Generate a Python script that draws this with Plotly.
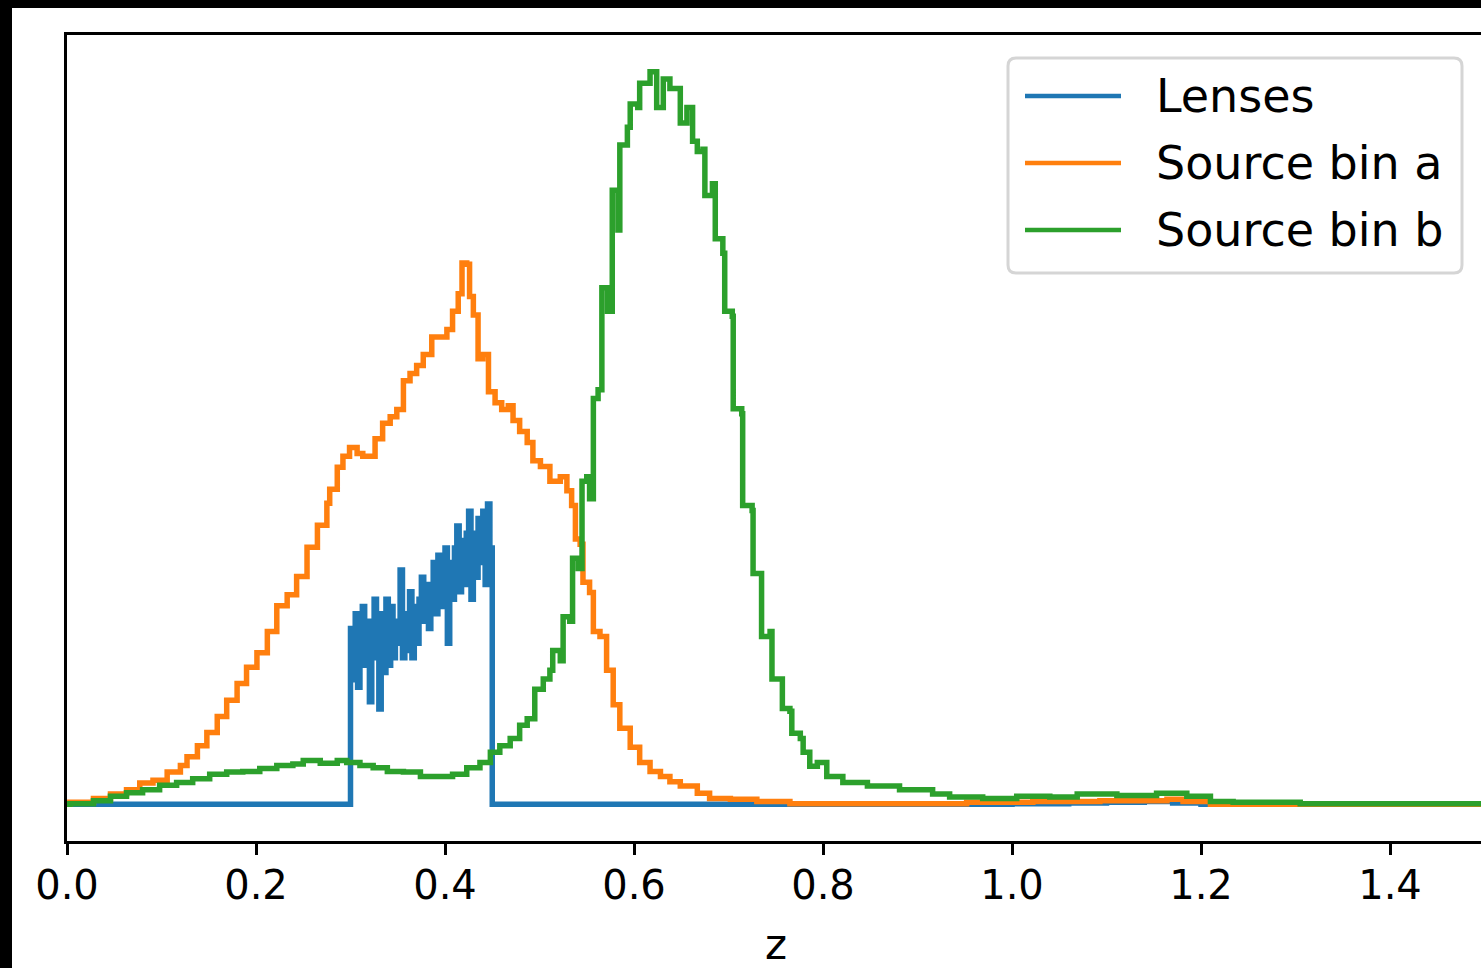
import numpy as np
import plotly.graph_objects as go

# ---------------- data ----------------
tick_vals = [0.0, 0.2, 0.4, 0.6, 0.8, 1.0, 1.2, 1.4]
tick_text = ["0.0", "0.2", "0.4", "0.6", "0.8", "1.0", "1.2", "1.4"]
series_names = ["Lenses", "Source bin a", "Source bin b"]

# Lenses: histogram bins of width 0.0025 between z=0.30 and z=0.45
lens_bin_lo, lens_bin_hi, lens_nbins = 0.30, 0.45, 60
lens_values = [0.24, 0.17, 0.26, 0.16, 0.22,
               0.27, 0.19, 0.25, 0.14, 0.23,
               0.28, 0.20, 0.13, 0.26, 0.18,
               0.28, 0.19, 0.27, 0.20, 0.25,
               0.22, 0.32, 0.20, 0.26, 0.21,
               0.29, 0.20, 0.27, 0.22, 0.28,
               0.31, 0.25, 0.30, 0.24, 0.29,
               0.33, 0.26, 0.34, 0.27, 0.32,
               0.35, 0.22, 0.33, 0.28, 0.35,
               0.38, 0.29, 0.36, 0.30, 0.37,
               0.40, 0.28, 0.37, 0.31, 0.39,
               0.33, 0.40, 0.30, 0.41, 0.35]
lens_tail_z = [0.45, 1.00, 1.06, 1.10, 1.14, 1.17, 1.20, 1.50]
lens_tail_y = [0.000, 0.001, 0.002, 0.003, 0.004, 0.002, 0.000, 0.000]

src_a_z = [0.000, 0.003, 0.028, 0.046, 0.063, 0.077, 0.091, 0.106, 0.120, 0.127,
           0.138, 0.148, 0.159, 0.169, 0.180, 0.190, 0.201, 0.212, 0.222, 0.233,
           0.243, 0.254, 0.265, 0.275, 0.278, 0.286, 0.292, 0.299, 0.307, 0.313,
           0.321, 0.326, 0.334, 0.342, 0.349, 0.356, 0.363, 0.370, 0.377, 0.386,
           0.395, 0.402, 0.408, 0.414, 0.418, 0.423, 0.426, 0.430, 0.435, 0.440,
           0.446, 0.453, 0.460, 0.467, 0.472, 0.479, 0.487, 0.493, 0.501, 0.511,
           0.522, 0.529, 0.534, 0.538, 0.543, 0.546, 0.553, 0.557, 0.564, 0.571,
           0.578, 0.585, 0.596, 0.606, 0.617, 0.628, 0.638, 0.649, 0.667, 0.680,
           0.702, 0.730, 0.765, 0.916, 0.952, 1.022, 1.093, 1.164, 1.181, 1.210,
           1.500]
src_a_y = [0.000, 0.003, 0.008, 0.014, 0.020, 0.029, 0.033, 0.044, 0.053, 0.065,
           0.080, 0.098, 0.120, 0.142, 0.165, 0.187, 0.207, 0.236, 0.271, 0.286,
           0.311, 0.351, 0.381, 0.411, 0.430, 0.460, 0.475, 0.487, 0.479, 0.475,
           0.475, 0.499, 0.520, 0.529, 0.539, 0.578, 0.588, 0.599, 0.614, 0.638,
           0.638, 0.648, 0.673, 0.697, 0.739, 0.737, 0.693, 0.668, 0.608, 0.614,
           0.563, 0.548, 0.539, 0.544, 0.524, 0.509, 0.494, 0.469, 0.461, 0.441,
           0.447, 0.428, 0.408, 0.362, 0.355, 0.303, 0.289, 0.236, 0.229, 0.183,
           0.136, 0.104, 0.078, 0.057, 0.045, 0.038, 0.031, 0.025, 0.015, 0.008,
           0.007, 0.004, 0.001, 0.001, 0.003, 0.004, 0.005, 0.007, 0.004, 0.000,
           0.000]

src_b_z = [0.000, 0.003, 0.028, 0.046, 0.063, 0.080, 0.098, 0.116, 0.133, 0.151,
           0.169, 0.186, 0.204, 0.222, 0.239, 0.250, 0.268, 0.286, 0.296, 0.310,
           0.324, 0.339, 0.356, 0.374, 0.392, 0.408, 0.423, 0.437, 0.448, 0.458,
           0.469, 0.479, 0.487, 0.495, 0.504, 0.511, 0.514, 0.522, 0.525, 0.532,
           0.535, 0.541, 0.545, 0.550, 0.553, 0.557, 0.562, 0.566, 0.572, 0.577,
           0.583, 0.585, 0.593, 0.596, 0.604, 0.606, 0.617, 0.624, 0.631, 0.638,
           0.646, 0.649, 0.656, 0.662, 0.667, 0.673, 0.675, 0.683, 0.686, 0.694,
           0.696, 0.704, 0.705, 0.714, 0.715, 0.725, 0.726, 0.733, 0.735, 0.744,
           0.746, 0.754, 0.757, 0.765, 0.767, 0.776, 0.779, 0.786, 0.794, 0.804,
           0.821, 0.847, 0.881, 0.916, 0.934, 0.969, 1.005, 1.040, 1.069, 1.111,
           1.153, 1.185, 1.210, 1.234, 1.305, 1.500]
src_b_y = [0.000, 0.001, 0.005, 0.011, 0.016, 0.020, 0.026, 0.030, 0.035, 0.041,
           0.044, 0.045, 0.049, 0.053, 0.055, 0.060, 0.056, 0.060, 0.057, 0.053,
           0.050, 0.045, 0.044, 0.038, 0.038, 0.041, 0.050, 0.057, 0.071, 0.080,
           0.090, 0.108, 0.117, 0.157, 0.171, 0.183, 0.210, 0.196, 0.256, 0.250,
           0.336, 0.322, 0.441, 0.447, 0.417, 0.554, 0.566, 0.705, 0.673, 0.838,
           0.784, 0.900, 0.924, 0.956, 0.951, 0.984, 1.000, 0.951, 0.990, 0.977,
           0.977, 0.930, 0.951, 0.905, 0.891, 0.894, 0.831, 0.847, 0.772, 0.752,
           0.673, 0.666, 0.540, 0.533, 0.408, 0.401, 0.315, 0.315, 0.229, 0.236,
           0.171, 0.171, 0.131, 0.127, 0.097, 0.090, 0.071, 0.052, 0.057, 0.038,
           0.030, 0.025, 0.020, 0.014, 0.010, 0.008, 0.011, 0.010, 0.014, 0.012,
           0.015, 0.011, 0.004, 0.003, 0.001, 0.001]

colors = ["#1f77b4", "#ff7f0e", "#2ca02c"]

# ---------------- build ----------------
lens_edges = np.linspace(lens_bin_lo, lens_bin_hi, lens_nbins + 1)[:-1]
lens_z = [0.0] + list(lens_edges) + lens_tail_z
lens_y = [0.0] + lens_values + lens_tail_y

fig = go.Figure()
for z, y, name, c in [(lens_z, lens_y, series_names[0], colors[0]),
                      (src_a_z, src_a_y, series_names[1], colors[1]),
                      (src_b_z, src_b_y, series_names[2], colors[2])]:
    fig.add_trace(go.Scatter(x=z, y=y, mode="lines", name=name,
                             line=dict(color=c, width=5.5, shape="hv"),
                             showlegend=False))

W, H = 1481, 968
L, R, T, B = 67, 0, 35, 127
pw, ph = W - L - R, H - T - B


def px(xp):
    return (xp - L) / pw


def py(yp):
    return (H - B - yp) / ph


FONT = "DejaVu Sans"
shapes = []
annotations = []

# legend box (rounded)
x0, x1, y0, y1 = px(1008), px(1462), py(273), py(58)
rx, ry = 8 / pw, 8 / ph
path = (f"M {x0+rx},{y1} L {x1-rx},{y1} Q {x1},{y1} {x1},{y1-ry} "
        f"L {x1},{y0+ry} Q {x1},{y0} {x1-rx},{y0} L {x0+rx},{y0} "
        f"Q {x0},{y0} {x0},{y0+ry} L {x0},{y1-ry} Q {x0},{y1} {x0+rx},{y1} Z")
shapes.append(dict(type="path", xref="paper", yref="paper", path=path,
                   fillcolor="rgba(255,255,255,0.85)",
                   line=dict(color="#d5d5d5", width=3), layer="above"))
for i, (name, c) in enumerate(zip(series_names, colors)):
    yy = py(96 + 67 * i)
    shapes.append(dict(type="line", xref="paper", yref="paper",
                       x0=px(1025), x1=px(1121), y0=yy, y1=yy,
                       line=dict(color=c, width=4.5), layer="above"))
    annotations.append(dict(xref="paper", yref="paper", x=px(1154), y=yy,
                            text=name, showarrow=False, xanchor="left",
                            yanchor="middle",
                            font=dict(family=FONT, size=46, color="black")))

# axis label
annotations.append(dict(xref="paper", yref="paper", x=px(776), y=py(944),
                        text="z", showarrow=False, xanchor="center",
                        yanchor="middle",
                        font=dict(family=FONT, size=42, color="black")))

# black frame bands (top and left edges of the picture)
shapes.append(dict(type="rect", xref="paper", yref="paper",
                   x0=-0.2, x1=1.2, ysizemode="pixel", yanchor=1,
                   y0=T - 8, y1=T + 5, fillcolor="black",
                   line=dict(width=0), layer="above"))
shapes.append(dict(type="rect", yref="paper", xref="paper",
                   y0=-0.3, y1=1.2, xsizemode="pixel", xanchor=0,
                   x0=-L - 5, x1=-L + 12, fillcolor="black",
                   line=dict(width=0), layer="above"))

fig.update_layout(
    width=W, height=H,
    margin=dict(l=L, r=R, t=T, b=B, pad=0),
    paper_bgcolor="white", plot_bgcolor="white",
    font=dict(family=FONT, color="black"),
    shapes=shapes, annotations=annotations,
    xaxis=dict(range=[0, 1.4963], tickvals=tick_vals, ticktext=tick_text,
               ticks="outside", ticklen=11, tickwidth=2.5, tickcolor="black",
               tickfont=dict(family=FONT, size=40, color="black"),
               ticklabelstandoff=-4,
               showline=True, linecolor="black", linewidth=2.5, mirror=True,
               showgrid=False, zeroline=False),
    yaxis=dict(range=[-0.05, 1.05], showticklabels=False, ticks="",
               showline=True, linecolor="black", linewidth=2.5,
               showgrid=False, zeroline=False),
)

fig.write_html("out.html", config={"displayModeBar": False},
               post_script="document.body.style.margin='0';document.body.style.overflow='hidden';")
